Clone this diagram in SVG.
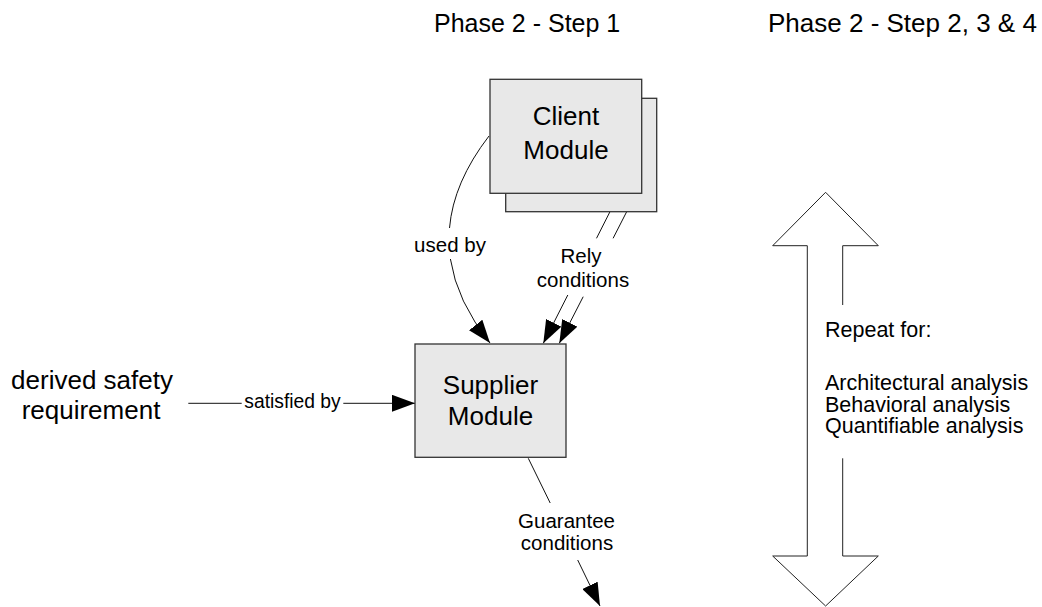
<svg xmlns="http://www.w3.org/2000/svg" width="1042" height="607" viewBox="0 0 1042 607">
  <style>
    text { font-family: "Liberation Sans", Arial, sans-serif; fill: #000; }
    .title { font-size: 26px; }
    .node-label { font-size: 26px; text-anchor: middle; }
    .edge-label { font-size: 20.5px; text-anchor: middle; }
    .note { font-size: 21.5px; }
    .box { fill: #e8e8e8; stroke: #333; stroke-width: 1.3; }
    .edge { fill: none; stroke: #111; stroke-width: 1; }
    .outline { fill: none; stroke: #222; stroke-width: 1; }
  </style>
  <defs>
    <marker id="arrow" markerUnits="userSpaceOnUse" markerWidth="23" markerHeight="17" refX="23" refY="8.5" orient="auto">
      <path d="M0,0 L23,8.5 L0,17 z" fill="#000"/>
    </marker>
  </defs>

  <rect width="1042" height="607" fill="#fff"/>

  <!-- column headings -->
  <g id="heading-step1">
    <text class="title" x="434" y="32" style="font-size:25px">Phase 2 - Step 1</text>
  </g>
  <g id="heading-step234">
    <text class="title" x="768" y="32">Phase 2 - Step 2, 3 &amp; 4</text>
  </g>

  <!-- connectors -->
  <g id="connectors">
    <!-- used by -->
    <path class="edge" d="M489,136 Q453.4,182.2 449.5,228"/>
    <path class="edge" d="M450.4,259 Q456.7,301.2 490,343" marker-end="url(#arrow)"/>
    <!-- rely conditions (two parallel lines) -->
    <path class="edge" d="M619.3,193.3 L596.5,238.3"/>
    <path class="edge" d="M567.8,295 L543.3,343.3" marker-end="url(#arrow)"/>
    <path class="edge" d="M626.7,211.7 L613.1,238.3"/>
    <path class="edge" d="M583.2,296.7 L559.3,343.3" marker-end="url(#arrow)"/>
    <!-- satisfied by -->
    <path class="edge" d="M188.3,403.3 L241.7,403.3"/>
    <path class="edge" d="M343.3,403.3 L415,403.3" marker-end="url(#arrow)"/>
    <!-- guarantee conditions -->
    <path class="edge" d="M528.3,458.3 L550.2,503"/>
    <path class="edge" d="M577.7,560 L600,606" marker-end="url(#arrow)"/>

    <text class="edge-label" x="450" y="251.7">used by</text>
    <text class="edge-label" x="581" y="263">Rely</text>
    <text class="edge-label" x="583" y="286.7">conditions</text>
    <text class="edge-label" x="292.5" y="407.7" style="font-size:19.3px">satisfied by</text>
    <text class="edge-label" x="566.5" y="528.3">Guarantee</text>
    <text class="edge-label" x="567" y="550">conditions</text>
  </g>

  <!-- client module (stacked) -->
  <g id="client-module">
    <rect class="box" x="505.7" y="98.3" width="151" height="113.4"/>
    <rect class="box" x="490" y="79.3" width="151.7" height="114"/>
    <text class="node-label" x="566" y="125">Client</text>
    <text class="node-label" x="566" y="159">Module</text>
  </g>

  <!-- supplier module -->
  <g id="supplier-module">
    <rect class="box" x="415" y="344" width="151" height="113.3"/>
    <text class="node-label" x="490.5" y="393.5">Supplier</text>
    <text class="node-label" x="490.5" y="424.5">Module</text>
  </g>

  <!-- derived requirement -->
  <g id="derived-requirement">
    <text class="node-label" x="92" y="389">derived safety</text>
    <text class="node-label" x="91" y="419.3">requirement</text>
  </g>

  <!-- repeat double arrow -->
  <g id="repeat-arrow">
    <path class="outline" d="M842.7,305 L842.7,245.7 L878.3,245.7 L825.6,192.3 L772.7,245.7 L807.3,245.7 L807.3,556 L772.7,556 L825.6,606 L878.3,556 L842.7,556 L842.7,458.3"/>
    <text class="note" x="825" y="336.7">Repeat for:</text>
    <text class="note" x="825" y="390">Architectural analysis</text>
    <text class="note" x="825" y="411.7">Behavioral analysis</text>
    <text class="note" x="825" y="433.3">Quantifiable analysis</text>
  </g>
</svg>
